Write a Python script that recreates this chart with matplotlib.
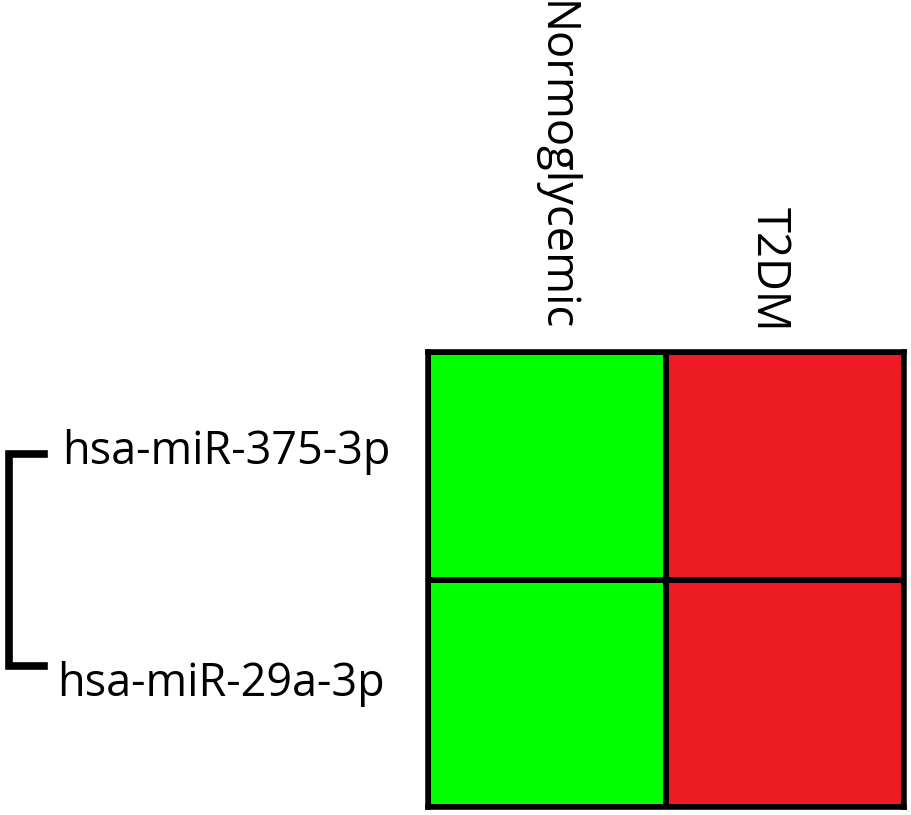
import numpy as np
import matplotlib
matplotlib.use("Agg")
import matplotlib.pyplot as plt
from matplotlib.colors import ListedColormap
from matplotlib.lines import Line2D

# ======== data ========
groups = ["Normoglycemic", "T2DM"]
mirnas = ["hsa-miR-375-3p", "hsa-miR-29a-3p"]
# relative expression (low / high)
expr = np.array([
    [-1.0, 1.0],
    [-1.0, 1.0],
])

plt.rcParams["font.family"] = ["Open Sans", "DejaVu Sans"]

W, H = 911, 815
fig = plt.figure(figsize=(W / 100, H / 100), dpi=100)

# heatmap axes (pixel box 428..904, 352..807)
ax = fig.add_axes([428 / W, 1 - 807 / H, (904 - 428) / W, (807 - 352) / H])
cmap = ListedColormap(["#00ff00", "#ed1c24"])
ax.pcolormesh(expr, cmap=cmap, vmin=-1, vmax=1,
              edgecolors="black", linewidth=3)
ax.set_xlim(0, len(groups))
ax.set_ylim(len(mirnas), 0)
ax.set_xticks([])
ax.set_yticks([])
for sp in ax.spines.values():
    sp.set_linewidth(4)
    sp.set_color("black")

# column labels (rotated, reading downwards)
col_x = [0.53, 1.43]
for x, g in zip(col_x, groups):
    ax.text(x, -0.09, g, rotation=270, ha="center", va="bottom",
            fontsize=32.7)

# row labels
row_x = [62 / W, 57 / W]
row_y = [1 - 452 / H, 1 - 684 / H]
for x, y, m in zip(row_x, row_y, mirnas):
    fig.text(x, y, m, ha="left", va="center", fontsize=32.4)

# dendrogram bracket
bx0, bx1 = 9 / W, 44 / W
by0, by1 = 1 - 454 / H, 1 - 666 / H
fig.add_artist(Line2D([bx1, bx0, bx0, bx1], [by0, by0, by1, by1],
                      color="black", lw=5.5, solid_joinstyle="miter",
                      transform=fig.transFigure))

fig.savefig("out.png", dpi=100)
